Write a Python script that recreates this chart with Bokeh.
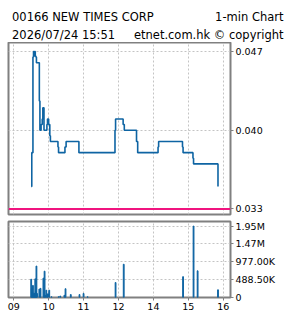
from bokeh.plotting import figure
from bokeh.models import FixedTicker, Grid, Span, Range1d, NumeralTickFormatter
from bokeh.core.properties import value
from bokeh.layouts import column
from bokeh.embed import file_html
from bokeh.resources import INLINE

# ---- data (minute index: minutes since 09:00, lunch 12:00-13:00 removed) ----
price_minute = [30, 31, 33, 34, 35, 36, 37, 38, 39, 44, 45, 47, 49, 50, 52, 57, 58, 60, 62, 63,
                76, 77, 88, 90, 112, 174, 175, 188, 190, 211, 213, 248, 249, 290, 291, 308, 309, 351]
price_value = [0.035, 0.038, 0.0465, 0.047, 0.0466, 0.047, 0.0466, 0.0465, 0.046, 0.0426, 0.040,
               0.0405, 0.041, 0.042, 0.040, 0.0405, 0.041, 0.0405, 0.0395, 0.039,
               0.0385, 0.038, 0.0385, 0.039, 0.038, 0.040, 0.041, 0.0405, 0.040, 0.039, 0.038,
               0.0385, 0.039, 0.0385, 0.038, 0.0375, 0.037, 0.035]
vol_minute = [30, 31, 32, 33, 34, 35, 36, 37, 38, 39, 40, 44, 46, 51, 53, 54, 56, 58, 59, 61,
              65, 77, 80, 87, 89, 98, 113, 120, 127, 175, 189, 291, 309, 316, 351]
vol_value = [500000, 240000, 130000, 330000, 80000, 120000, 90000, 510000, 180000, 860000, 110000,
             230000, 250000, 530000, 720000, 60000, 200000, 90000, 100000, 200000,
             20000, 20000, 40000, 60000, 240000, 80000, 80000, 110000, 20000,
             410000, 910000, 570000, 1954000, 730000, 210000]
prev_close = 0.033

time_ticks = [0, 60, 120, 180, 240, 300, 360]
time_labels = ["09", "10", "11", "12", "14", "15", "16"]
price_ticks = [0.033, 0.040, 0.047]
vol_ticks = [0, 488500, 977000, 1465500, 1954000]
vol_labels = ["0", "488.50K", "977.00K", "1.47M", "1.95M"]

header_left = ["00166 NEW TIMES CORP", "2026/07/24 15:51"]
header_right = ["1-min Chart", "etnet.com.hk \u00a9 copyright"]

BLUE = "#0e64a3"
GRID = "#c4c4c4"
FRAME = "#808080"
FONT = "DejaVu Sans"

xr = Range1d(-9, 372.5)


def style(p):
    p.outline_line_color = FRAME
    p.outline_line_width = 2
    p.background_fill_color = "white"
    p.border_fill_color = "white"
    p.center = [r for r in p.center if not isinstance(r, Grid)]
    for ax in p.axis:
        ax.axis_line_color = None
        ax.major_tick_line_color = FRAME
        ax.major_tick_out = 3
        ax.major_tick_in = 0
        ax.minor_tick_line_color = None
        ax.major_label_text_font = FONT
        ax.major_label_text_font_size = "9.5px"
        ax.major_label_text_color = "black"
        ax.major_label_standoff = 2
    p.add_layout(Grid(dimension=0, ticker=FixedTicker(ticks=time_ticks), grid_line_color=GRID,
                      grid_line_dash="2 2", grid_line_width=1))


# header strip (pixel-like coordinates, y downward)
head = figure(width=285, height=42, x_range=Range1d(0, 285), y_range=Range1d(42, 0),
              output_backend="svg", toolbar_location=None, x_axis_location=None,
              y_axis_location=None, min_border=0, title=None)
head.outline_line_color = None
head.center = [r for r in head.center if not isinstance(r, Grid)]
head.text(x=[11.5, 11.5], y=[16.7, 34.3], text=header_left, text_font=value(FONT),
          text_font_size=value("11.5px"), text_align="left", text_baseline="alphabetic",
          text_color="black")
head.text(x=[283, 283], y=[16.7, 34.3], text=header_right, text_font=value(FONT),
          text_font_size=value("11.5px"), text_align="right", text_baseline="alphabetic",
          text_color="black")

p1 = figure(width=285, height=175, x_range=xr, y_range=Range1d(0.0325, 0.0478),
            output_backend="svg", toolbar_location=None, x_axis_location=None,
            y_axis_location="right", min_border_left=8, min_border_right=55,
            min_border_top=0, min_border_bottom=3, title=None)
p1.yaxis.ticker = FixedTicker(ticks=price_ticks)
p1.yaxis.formatter = NumeralTickFormatter(format="0.000")
style(p1)
p1.add_layout(Grid(dimension=1, ticker=FixedTicker(ticks=price_ticks), grid_line_color=GRID,
                   grid_line_dash="2 2", grid_line_width=1))
p1.add_layout(Span(location=prev_close, dimension="width", line_color="#f0147f", line_width=2))
p1.step(price_minute, price_value, mode="after", line_color=BLUE, line_width=1.6)

p2 = figure(width=285, height=101, x_range=xr, y_range=Range1d(0, 2.08e6),
            output_backend="svg", toolbar_location=None, y_axis_location="right",
            min_border_left=8, min_border_right=55, min_border_top=4, min_border_bottom=21,
            title=None)
p2.xaxis.ticker = FixedTicker(ticks=time_ticks)
p2.xaxis.major_label_overrides = {t: l for t, l in zip(time_ticks, time_labels)}
p2.yaxis.ticker = FixedTicker(ticks=vol_ticks)
p2.yaxis.major_label_overrides = {t: l for t, l in zip(vol_ticks, vol_labels)}
style(p2)
p2.add_layout(Grid(dimension=1, ticker=FixedTicker(ticks=vol_ticks), grid_line_color=GRID,
                   grid_line_dash="2 2", grid_line_width=1))
p2.vbar(x=vol_minute, top=vol_value, width=1.4, color=BLUE)

layout = column(head, column(p1, p2, spacing=0), spacing=0)
open("out.html", "w").write(file_html(layout, INLINE))
